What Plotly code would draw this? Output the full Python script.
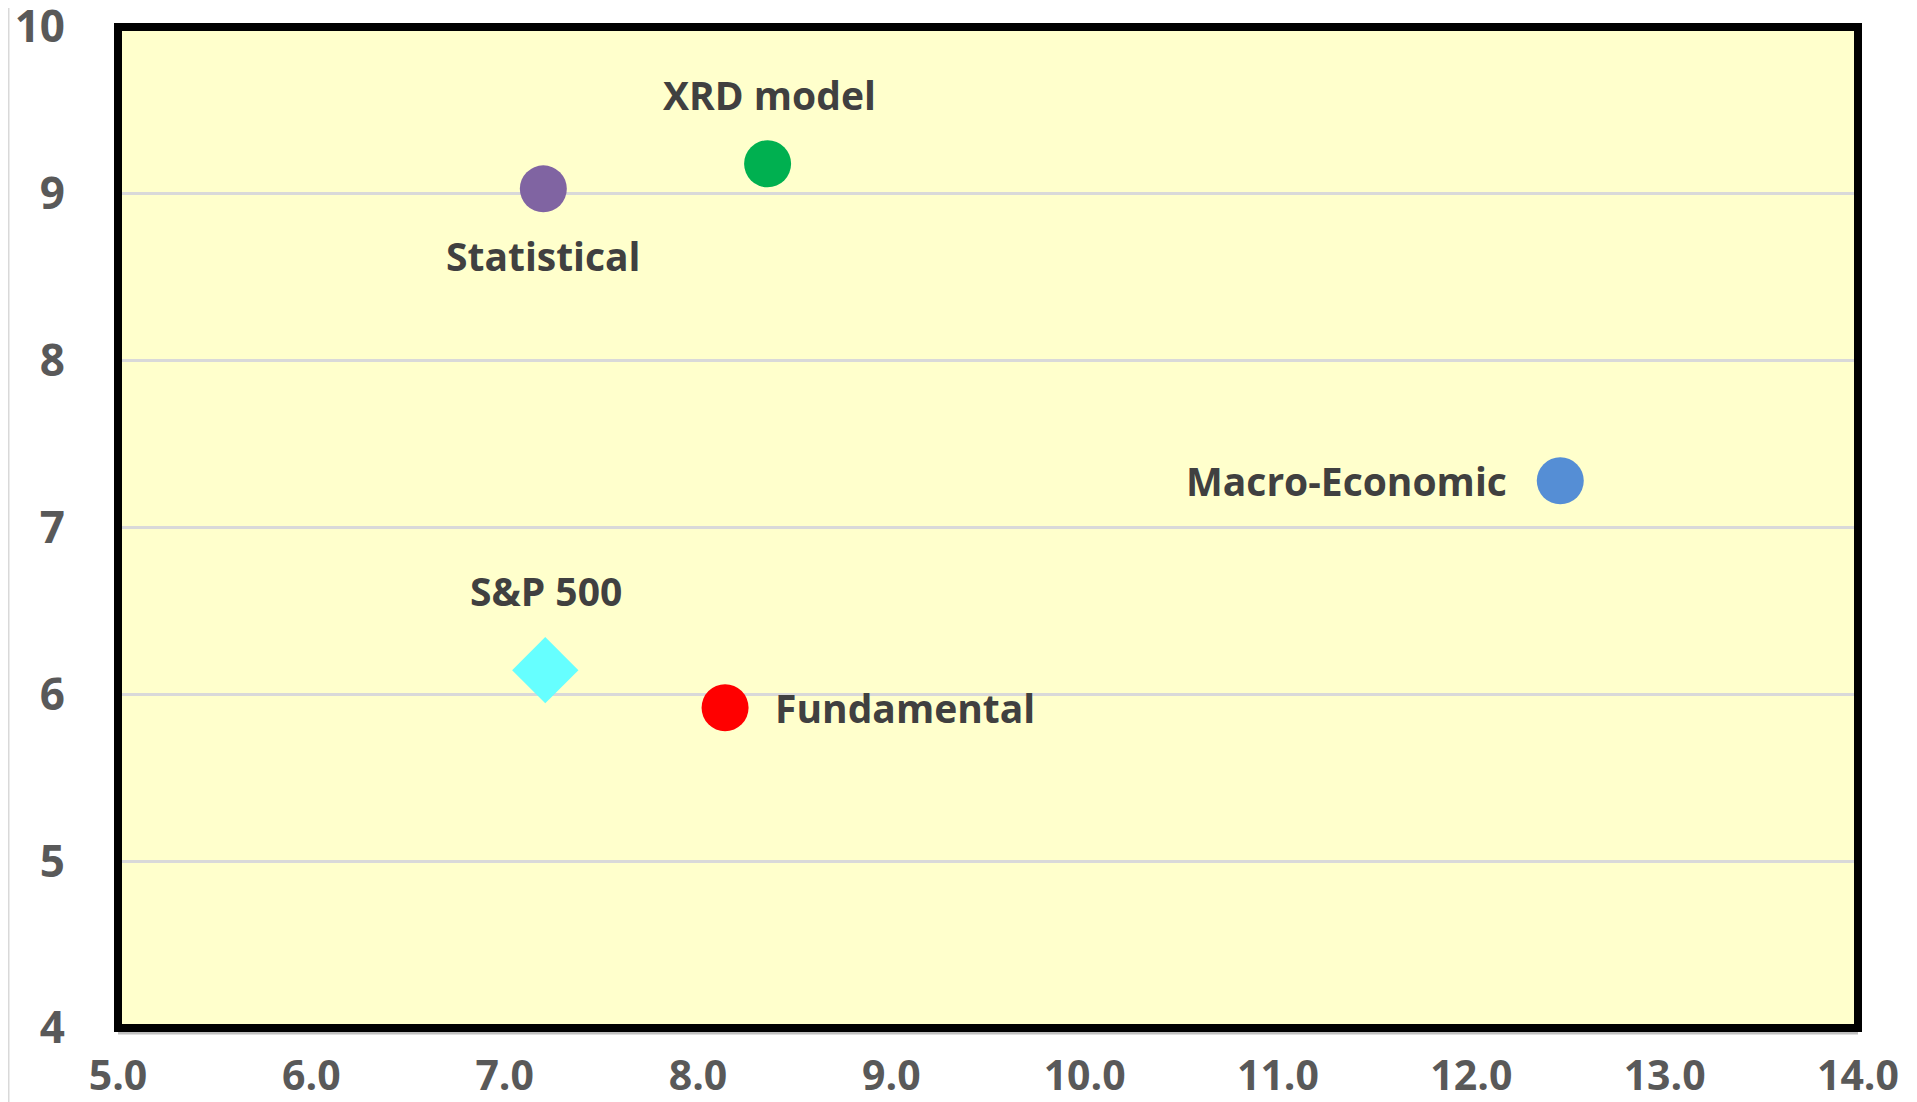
import plotly.graph_objects as go

# ---- data ----
names = ["Statistical", "XRD model", "Macro-Economic", "S&P 500", "Fundamental"]
x_vals = [7.20, 8.36, 12.46, 7.21, 8.14]
y_vals = [9.03, 9.18, 7.28, 6.145, 5.92]
x_ticks = [5.0, 6.0, 7.0, 8.0, 9.0, 10.0, 11.0, 12.0, 13.0, 14.0]
x_tick_labels = ["5.0", "6.0", "7.0", "8.0", "9.0", "10.0", "11.0", "12.0", "13.0", "14.0"]
y_ticks = [4, 5, 6, 7, 8, 9, 10]

# ---- styles ----
colors = {"Statistical": "#8064A2", "XRD model": "#00B050", "Macro-Economic": "#558ED5",
          "S&P 500": "#66FFFF", "Fundamental": "#FF0000"}
symbols = {"S&P 500": "diamond"}
label_style = {  # (xshift, yshift, xanchor)
    "Statistical": (0, -67, "center"),
    "XRD model": (2, 69, "center"),
    "Macro-Economic": (-51, 0, "right"),
    "S&P 500": (1, 80, "center"),
    "Fundamental": (48, 0, "left"),
}

FONT = "Open Sans"
fig = go.Figure()
for n, xv, yv in zip(names, x_vals, y_vals):
    sym = symbols.get(n, "circle")
    fig.add_trace(go.Scatter(
        x=[xv], y=[yv], mode="markers", name=n,
        marker=dict(color=colors[n], size=51 if sym == "diamond" else 47, symbol=sym,
                    line=dict(width=0)),
        showlegend=False, hoverinfo="x+y+name"))
    xs, ys, xa = label_style[n]
    fig.add_annotation(x=xv, y=yv, text=n, showarrow=False, xshift=xs, yshift=ys,
                       xanchor=xa, yanchor="middle",
                       font=dict(family=FONT, size=39, color="#404040", weight="bold"))

# page body has an 8px margin; margins below compensate for it
W, H = 1909, 1094
L, R, T, B = 110, 59, 19, 74
fig.update_layout(
    width=W, height=H,
    margin=dict(l=L, r=R, t=T, b=B, autoexpand=False),
    paper_bgcolor="white", plot_bgcolor="#FFFFCC",
)
fig.update_xaxes(range=[5, 14], tickvals=x_ticks, ticktext=x_tick_labels,
                 showgrid=False, zeroline=False, showline=False, automargin=False,
                 ticks="", ticklabelstandoff=20, ticklabeloverflow="allow",
                 tickfont=dict(family=FONT, size=41, color="#595959", weight="bold"))
fig.update_yaxes(range=[3.9999, 10.0001], tickvals=y_ticks, showgrid=True, gridcolor="#D9D9D9",
                 gridwidth=2.5, zeroline=False, showline=False, automargin=False,
                 ticks="", ticklabelstandoff=52, ticklabeloverflow="allow",
                 tickfont=dict(family=FONT, size=44, color="#595959", weight="bold"))

# grey shadow line under the frame
fig.add_shape(type="line", xref="x domain", yref="y domain", x0=0, x1=1, y0=-5, y1=-5,
              ysizemode="pixel", yanchor=0, line=dict(color="#BFBFBF", width=3), layer="above")
# frame around plot area
fig.add_shape(type="rect", xref="x domain", yref="y domain", x0=0, x1=1, y0=0, y1=1,
              line=dict(color="black", width=8), fillcolor="rgba(0,0,0,0)", layer="above")
# thin grey chart-area edge on the far left
pw = W - L - R
ph = H - T - B
fig.add_shape(type="line", xref="paper", yref="paper", x0=-L / pw, x1=-L / pw,
              y0=-B / ph, y1=1 + T / ph,
              line=dict(color="#D9D9D9", width=3))

fig.write_html("out.html")
